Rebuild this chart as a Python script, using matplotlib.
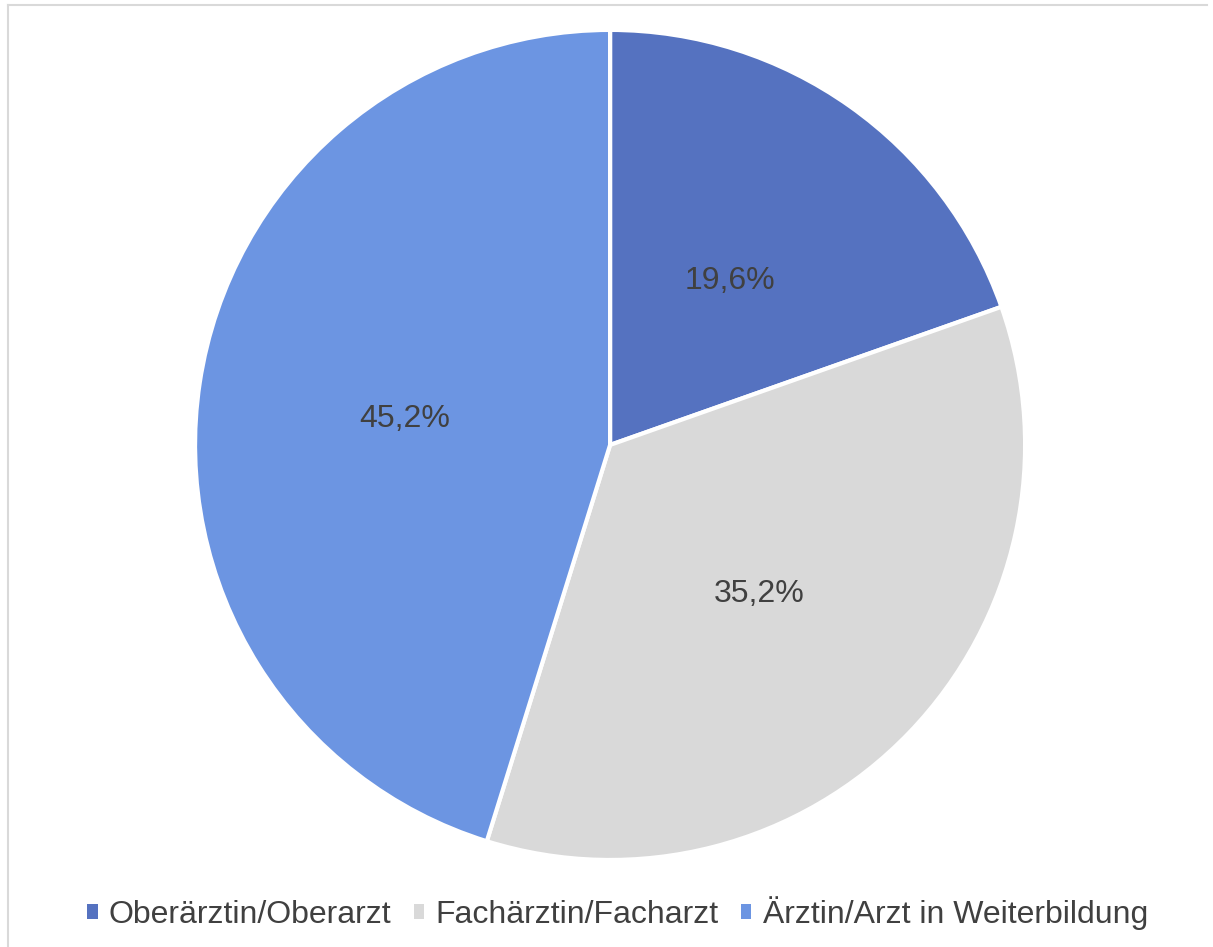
import matplotlib.pyplot as plt
from matplotlib.lines import Line2D
from matplotlib.patches import Patch

plt.rcParams['font.family'] = ['Liberation Sans', 'DejaVu Sans']

## Anteile der Positionen
labels = ['Oberärztin/Oberarzt', 'Fachärztin/Facharzt', 'Ärztin/Arzt in Weiterbildung']
values = [19.6, 35.2, 45.2]
colors = ['#5572c0', '#d9d9d9', '#6c95e2']

fig = plt.figure(figsize=(12.13, 9.47), dpi=100)
ax = fig.add_axes([0.1608, 0.0919, 0.6843, 0.8765])

wedges, texts, autotexts = ax.pie(values, colors=colors, startangle=90, counterclock=False,
                                  autopct=lambda p: '{:.1f}%'.format(p).replace('.', ','),
                                  pctdistance=0.5,
                                  wedgeprops={'edgecolor': 'white', 'linewidth': 3},
                                  textprops={'fontsize': 23, 'color': '#404040'})
for t in autotexts:
    x, y = t.get_position()
    t.set_position((x, y - 0.012))
ax.set_xlim(-1, 1)
ax.set_ylim(-1, 1)
ax.set_aspect('equal')

handles = [Patch(facecolor=c, edgecolor='none') for c in colors]
leg = fig.legend(handles, labels, loc='center', bbox_to_anchor=(0.509, 0.036), ncol=3,
                 frameon=False, fontsize=23, handlelength=0.33, handleheight=0.33,
                 handletextpad=0.35, columnspacing=0.7)
for t in leg.get_texts():
    t.set_color('#404040')

## Rahmen
fig.add_artist(Line2D([0.0066, 0.995], [0.9947, 0.9947], color='#d9d9d9', lw=1.5, transform=fig.transFigure))
fig.add_artist(Line2D([0.0066, 0.0066], [0.0, 0.9947], color='#d9d9d9', lw=1.5, transform=fig.transFigure))

plt.savefig('out.png')
